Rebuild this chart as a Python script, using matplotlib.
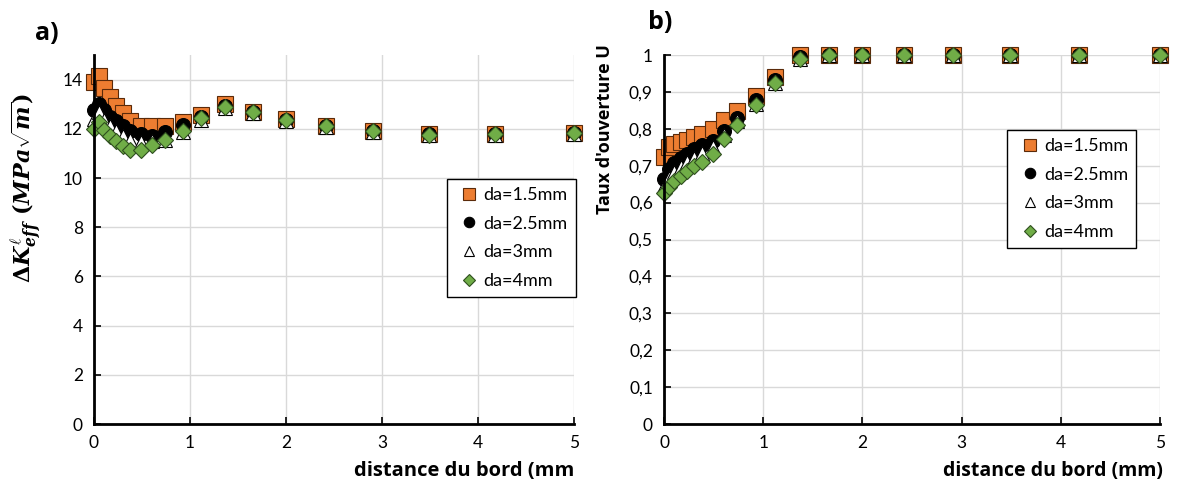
import numpy as np
import matplotlib
matplotlib.use("Agg")
import matplotlib.pyplot as plt

plt.rcParams['font.family'] = ['Lato', 'DejaVu Sans']
plt.rcParams['mathtext.fontset'] = 'custom'
plt.rcParams['mathtext.rm'] = 'DejaVu Serif:bold'
plt.rcParams['mathtext.it'] = 'DejaVu Serif:italic:bold'
plt.rcParams['mathtext.bf'] = 'DejaVu Serif:bold'

# distance du bord (mm)
x = [0, 0.05, 0.1, 0.17, 0.23, 0.3, 0.38, 0.49, 0.6, 0.74, 0.93,
     1.12, 1.37, 1.66, 2.0, 2.42, 2.91, 3.49, 4.18, 5.0]

# a) Delta K eff
dk_15 = [13.9, 14.15, 13.65, 13.28, 12.94, 12.63, 12.33, 12.11, 12.11, 12.11, 12.29,
         12.55, 13.0, 12.7, 12.38, 12.13, 11.93, 11.78, 11.8, 11.83]
dk_25 = [12.75, 13.0, 12.75, 12.5, 12.3, 12.1, 11.92, 11.8, 11.72, 11.85, 12.15,
         12.48, 12.92, 12.68, 12.37, 12.12, 11.92, 11.77, 11.79, 11.82]
dk_3 = [12.4, 12.7, 12.35, 12.1, 11.9, 11.7, 11.55, 11.45, 11.5, 11.55, 11.85,
        12.35, 12.85, 12.63, 12.33, 12.08, 11.88, 11.73, 11.75, 11.78]
dk_4 = [12.0, 12.29, 11.97, 11.72, 11.5, 11.3, 11.13, 11.12, 11.34, 11.55, 11.9,
        12.44, 12.9, 12.68, 12.36, 12.11, 11.92, 11.76, 11.78, 11.81]

# b) taux d'ouverture U
u_15 = [0.724, 0.75, 0.759, 0.763, 0.77, 0.779, 0.786, 0.799, 0.824, 0.848, 0.888,
        0.94, 1.0, 1.0, 1.0, 1.0, 1.0, 1.0, 1.0, 1.0]
u_25 = [0.663, 0.69, 0.708, 0.72, 0.733, 0.745, 0.755, 0.766, 0.795, 0.83, 0.878,
        0.933, 0.995, 1.0, 1.0, 1.0, 1.0, 1.0, 1.0, 1.0]
u_3 = [0.645, 0.668, 0.684, 0.697, 0.71, 0.722, 0.734, 0.75, 0.784, 0.82, 0.868,
       0.925, 0.99, 1.0, 1.0, 1.0, 1.0, 1.0, 1.0, 1.0]
u_4 = [0.625, 0.643, 0.659, 0.672, 0.686, 0.699, 0.711, 0.733, 0.772, 0.81, 0.864,
       0.925, 0.99, 1.0, 1.0, 1.0, 1.0, 1.0, 1.0, 1.0]

labels = ["da=1.5mm", "da=2.5mm", "da=3mm", "da=4mm"]
styles = [dict(marker="s", ms=11.5, mfc="#ED7D31", mec="#5a2a0a", mew=0.8),
          dict(marker="o", ms=10, mfc="black", mec="black", mew=0.8),
          dict(marker="^", ms=9.5, mfc="white", mec="black", mew=0.8),
          dict(marker="D", ms=8, mfc="#70AD47", mec="#2f4f1f", mew=0.8)]

bold_font = dict(family="Open Sans", fontweight="bold")

fig = plt.figure(figsize=(11.88, 4.92), dpi=100)
ax1 = fig.add_axes([0.0791, 0.1382, 0.404, 0.75])
ax2 = fig.add_axes([0.559, 0.1382, 0.4175, 0.75])


def style_ax(ax):
    ax.grid(True, color="#d9d9d9", lw=1)
    ax.set_axisbelow(True)
    for s in ["top", "right"]:
        ax.spines[s].set_visible(False)
    for s in ["left", "bottom"]:
        ax.spines[s].set_linewidth(2)
        ax.spines[s].set_color("black")
    ax.tick_params(direction="in", length=5, width=1.2, labelsize=12.5, pad=8)
    ax.set_xlim(0, 5)
    ax.set_xticks([0, 1, 2, 3, 4, 5])


def make_legend(ax, anchor):
    leg = ax.legend(loc="upper left", bbox_to_anchor=anchor, fontsize=13,
                    frameon=True, fancybox=False, edgecolor="black", framealpha=1,
                    handletextpad=0.0, handlelength=1.6, labelspacing=0.7,
                    borderpad=0.45, borderaxespad=0, markerscale=0.75)
    leg.get_frame().set_linewidth(1)


for ys, st, lab in zip([dk_15, dk_25, dk_3, dk_4], styles, labels):
    ax1.plot(x, ys, ls="none", label=lab, clip_on=False, **st)
style_ax(ax1)
ax1.set_ylim(0, 15)
ax1.set_yticks(range(0, 16, 2))
ax1.set_ylabel(r"$\Delta K^{\ell}_{eff}\ (MPa\sqrt{m})$", fontsize=16)
ax1.yaxis.label.set_verticalalignment("center")
ax1.yaxis.set_label_coords(-0.14, 0.64)
ax1.set_xlabel("distance du bord (mm", fontsize=14.5, **bold_font)
ax1.xaxis.set_label_coords(1.0, -0.1)
ax1.xaxis.label.set_horizontalalignment("right")
make_legend(ax1, (0.735, 0.664))

for ys, st, lab in zip([u_15, u_25, u_3, u_4], styles, labels):
    ax2.plot(x, ys, ls="none", label=lab, clip_on=False, **st)
style_ax(ax2)
ax2.set_ylim(0, 1)
yt = np.round(np.arange(0, 1.01, 0.1), 1)
ax2.set_yticks(yt)
ax2.set_yticklabels(["0" if v == 0 else ("1" if v == 1 else f"{v:.1f}".replace(".", ",")) for v in yt])
ax2.set_ylabel("Taux d'ouverture U", fontsize=13, **bold_font)
ax2.yaxis.label.set_verticalalignment("center")
ax2.yaxis.set_label_coords(-0.119, 0.80)
ax2.set_xlabel("distance du bord (mm)", fontsize=14, **bold_font)
ax2.xaxis.set_label_coords(1.005, -0.1)
ax2.xaxis.label.set_horizontalalignment("right")
make_legend(ax2, (0.6915, 0.797))

fig.text(0.039, 0.932, "a)", fontsize=18, ha="center", va="center", **bold_font)
fig.text(0.556, 0.955, "b)", fontsize=18, ha="center", va="center", **bold_font)

fig.savefig("out.png", dpi=100)
